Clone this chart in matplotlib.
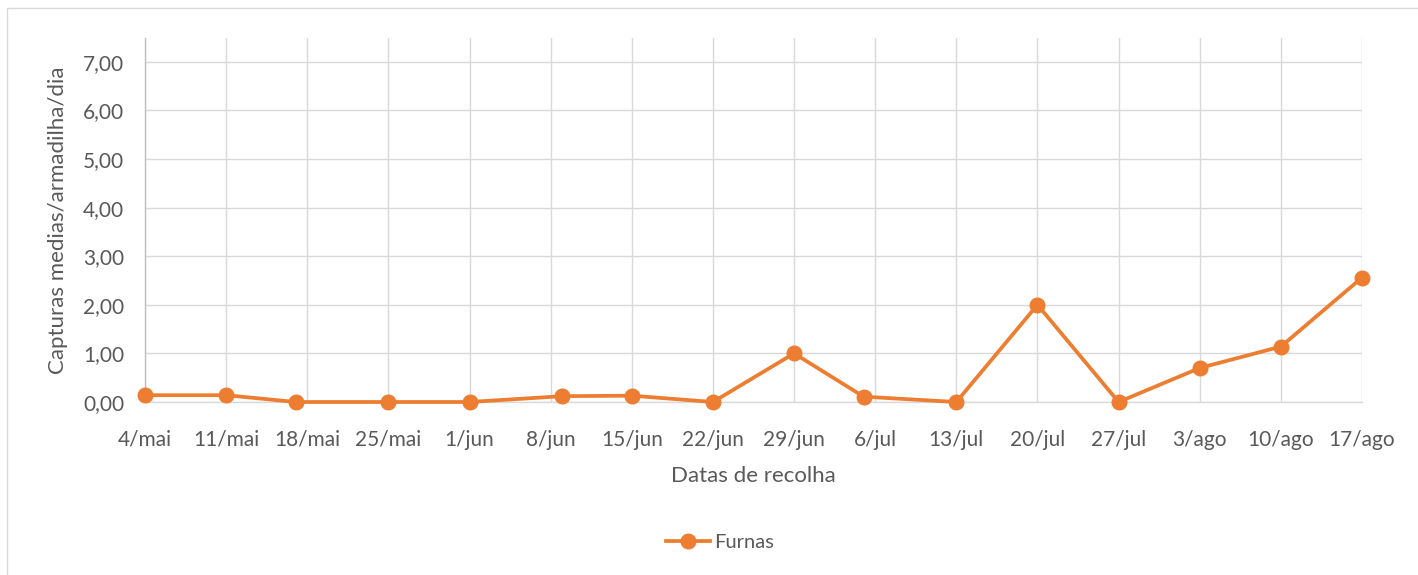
import matplotlib
matplotlib.use("Agg")
import matplotlib.pyplot as plt
from matplotlib.patches import Rectangle
from matplotlib.lines import Line2D

# Data
tick_labels = ["4/mai", "11/mai", "18/mai", "25/mai", "1/jun", "8/jun", "15/jun", "22/jun",
               "29/jun", "6/jul", "13/jul", "20/jul", "27/jul", "3/ago", "10/ago", "17/ago"]
tick_days = [0, 7, 14, 21, 28, 35, 42, 49, 56, 63, 70, 77, 84, 91, 98, 105]
# collection day offsets from 4/mai (actual sampling dates)
collection_days = [0, 7, 13, 21, 28, 36, 42, 49, 56, 62, 70, 77, 84, 91, 98, 105]
furnas = [0.14, 0.14, 0.0, 0.0, 0.0, 0.12, 0.13, 0.0, 1.0, 0.11, 0.0, 2.0, 0.0, 0.70, 1.14, 2.56]
y_ticks = [0, 1, 2, 3, 4, 5, 6, 7]

plt.rcParams['font.family'] = ['Lato', 'DejaVu Sans']
ORANGE = "#ED7D31"
GRID = "#D9D9D9"
TXT = "#595959"

fig = plt.figure(figsize=(14.18, 5.75), dpi=100)
ax = fig.add_axes([145/1418, 1-402/575, (1362-145)/1418, (402-37.5)/575])

ax.plot(collection_days, furnas, color=ORANGE, lw=2.7, marker='o', ms=10.5, zorder=3,
        clip_on=False)

ax.set_xlim(tick_days[0], tick_days[-1])
ax.set_ylim(0, 7.5)
ax.set_xticks(tick_days)
ax.set_xticklabels(tick_labels)
ax.set_yticks(y_ticks)
ax.set_yticklabels([f"{v:.2f}".replace('.', ',') for v in y_ticks])

ax.grid(True, color=GRID, lw=1.0)
ax.set_axisbelow(True)
for s in ["top", "right"]:
    ax.spines[s].set_visible(False)
ax.spines["left"].set_color("#BFBFBF")
ax.spines["bottom"].set_color(GRID)
ax.spines["left"].set_linewidth(1.0)
ax.spines["bottom"].set_linewidth(1.0)
ax.tick_params(axis='both', length=0, labelsize=15, colors=TXT)
ax.tick_params(axis='x', pad=20)
ax.tick_params(axis='y', pad=15)

ax.set_xlabel("Datas de recolha", fontsize=16, color=TXT, labelpad=12)
ax.set_ylabel("Capturas medias/armadilha/dia", fontsize=16, color=TXT, labelpad=11)

handle = Line2D([], [], color=ORANGE, lw=2.7, marker='o', ms=10.5)
fig.legend([handle], ["Furnas"], loc='center', bbox_to_anchor=(720/1418, 1-542/575),
           frameon=False, fontsize=14.5, handlelength=2.2, handletextpad=0.2,
           labelcolor=TXT)

fig.patches.append(Rectangle((7/1418, -0.01), 1.0, 1-8/575+0.01, transform=fig.transFigure,
                             fill=False, edgecolor=GRID, lw=1.0))

fig.savefig("out.png", dpi=100, facecolor="white")
